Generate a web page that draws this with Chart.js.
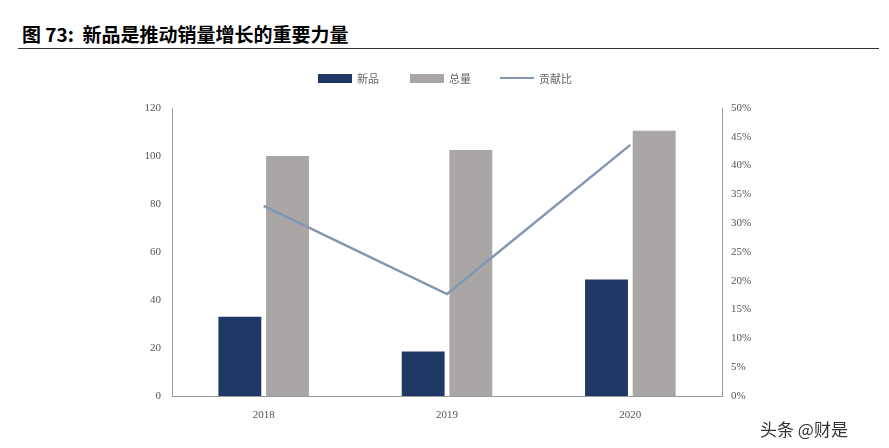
<!DOCTYPE html>
<html><head><meta charset="utf-8">
<script src="https://cdn.jsdelivr.net/npm/chart.js@4"></script>
<style>
body{margin:0;width:889px;height:448px;background:#fff;position:relative;overflow:hidden;font-family:"Noto Sans CJK SC",sans-serif}
#title{position:absolute;left:22px;top:20px;font-size:19px;font-weight:bold;color:#000}
#rule{position:absolute;left:18px;right:10px;top:48px;border-top:1px solid #333}
#wrap{position:absolute;left:0;top:55px;width:889px;height:393px}
.lg{position:absolute;top:15px;font-size:11px;color:#666;display:flex;align-items:center}
.lg i{display:inline-block;width:34px;margin-right:5px}
#wm{position:absolute;left:760px;top:416px;font-size:17px;color:#333}
</style></head><body>
<div id="title">图 73:&nbsp; 新品是推动销量增长的重要力量</div>
<div id="rule"></div>
<div id="wrap"><canvas id="c"></canvas>
<div class="lg" style="left:318px"><i style="height:9px;background:#1F3864"></i>新品</div>
<div class="lg" style="left:410px"><i style="height:9px;background:#ABA6A6"></i>总量</div>
<div class="lg" style="left:500px"><i style="height:2px;background:#8497B0"></i>贡献比</div>
</div>
<div id="wm">头条 @财是</div>
<script>
// data
var years=["2018","2019","2020"];
var newProd=[33,18.5,48.5];
var total=[100,102.5,110.5];
var ratio=[33,17.7,43.6];

new Chart(document.getElementById("c"),{
  data:{labels:years,datasets:[
    {type:"bar",label:"新品",data:newProd,backgroundColor:"#1F3864",yAxisID:"y",categoryPercentage:0.52,barPercentage:0.9,order:2},
    {type:"bar",label:"总量",data:total,backgroundColor:"#ABA6A6",yAxisID:"y",categoryPercentage:0.52,barPercentage:0.9,order:2},
    {type:"line",label:"贡献比",data:ratio,borderColor:"#8497B0",borderWidth:2.5,pointRadius:0,yAxisID:"y1",order:1}
  ]},
  options:{
    responsive:true,maintainAspectRatio:false,animation:false,
    layout:{padding:{top:53,left:0,right:0,bottom:0}},
    plugins:{legend:{display:false},tooltip:{enabled:false}},
    scales:{
      x:{grid:{display:false,drawTicks:true,tickLength:5},border:{color:"#999"},
         ticks:{color:"#555",font:{family:"Liberation Serif",size:11},padding:8},
         afterFit:function(s){s.height=52;}},
      y:{position:"left",min:0,max:120,grid:{display:false,tickLength:5},border:{color:"#999"},
         ticks:{stepSize:20,color:"#555",font:{family:"Liberation Serif",size:11},padding:6},
         afterFit:function(s){s.width=172;}},
      y1:{position:"right",min:0,max:50,grid:{display:false,tickLength:5},border:{color:"#999"},
         ticks:{stepSize:5,color:"#555",font:{family:"Liberation Serif",size:11},padding:4,callback:function(v){return v+"%";}},
         afterFit:function(s){s.width=167;}}
    }
  }
});
</script></body></html>
